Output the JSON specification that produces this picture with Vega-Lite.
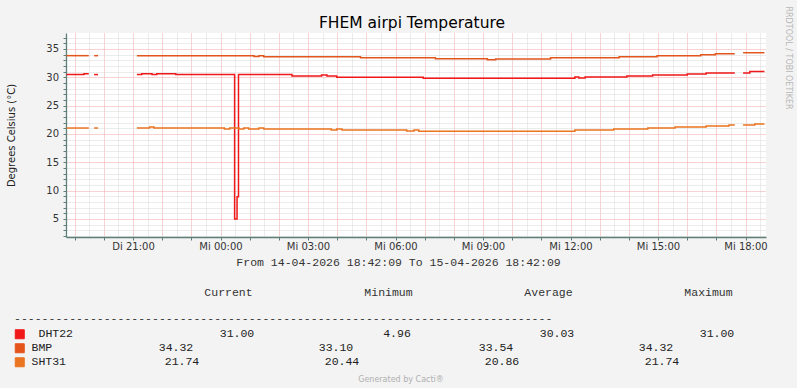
{
  "$schema": "https://vega.github.io/schema/vega-lite/v6.json",
  "background": "#F3F3F3",
  "padding": {"left": 6, "top": 5, "right": 6, "bottom": 7},
  "bounds": "flush",
  "spacing": 64,
  "config": {"view": {"stroke": null}, "font": "DejaVu Sans"},
  "resolve": {"scale": {"x": "independent", "y": "independent"}, "axis": {"x": "independent", "y": "independent"}},
  "datasets": {
    "temps": [
      {"s": "DHT22", "g": 1, "t": "2026-04-14T18:43", "v": 30.46},
      {"s": "DHT22", "g": 1, "t": "2026-04-14T19:19", "v": 30.63},
      {"s": "DHT22", "g": 1, "t": "2026-04-14T19:29", "v": 30.63},
      {"s": "DHT22", "g": 2, "t": "2026-04-14T19:40", "v": 30.46},
      {"s": "DHT22", "g": 2, "t": "2026-04-14T19:48", "v": 30.46},
      {"s": "DHT22", "g": 3, "t": "2026-04-14T21:08", "v": 30.46},
      {"s": "DHT22", "g": 3, "t": "2026-04-14T21:18", "v": 30.63},
      {"s": "DHT22", "g": 3, "t": "2026-04-14T21:39", "v": 30.46},
      {"s": "DHT22", "g": 3, "t": "2026-04-14T21:49", "v": 30.63},
      {"s": "DHT22", "g": 3, "t": "2026-04-14T22:28", "v": 30.46},
      {"s": "DHT22", "g": 3, "t": "2026-04-15T00:29", "v": 4.96},
      {"s": "DHT22", "g": 3, "t": "2026-04-15T00:34", "v": 8.9},
      {"s": "DHT22", "g": 3, "t": "2026-04-15T00:37", "v": 30.46},
      {"s": "DHT22", "g": 3, "t": "2026-04-15T02:27", "v": 30.2},
      {"s": "DHT22", "g": 3, "t": "2026-04-15T03:28", "v": 30.4},
      {"s": "DHT22", "g": 3, "t": "2026-04-15T03:39", "v": 30.23},
      {"s": "DHT22", "g": 3, "t": "2026-04-15T03:59", "v": 29.98},
      {"s": "DHT22", "g": 3, "t": "2026-04-15T06:57", "v": 29.82},
      {"s": "DHT22", "g": 3, "t": "2026-04-15T12:09", "v": 30.05},
      {"s": "DHT22", "g": 3, "t": "2026-04-15T12:17", "v": 29.85},
      {"s": "DHT22", "g": 3, "t": "2026-04-15T12:30", "v": 30.05},
      {"s": "DHT22", "g": 3, "t": "2026-04-15T13:56", "v": 30.23},
      {"s": "DHT22", "g": 3, "t": "2026-04-15T14:49", "v": 30.4},
      {"s": "DHT22", "g": 3, "t": "2026-04-15T16:00", "v": 30.58},
      {"s": "DHT22", "g": 3, "t": "2026-04-15T16:39", "v": 30.76},
      {"s": "DHT22", "g": 3, "t": "2026-04-15T17:38", "v": 30.76},
      {"s": "DHT22", "g": 4, "t": "2026-04-15T17:55", "v": 30.76},
      {"s": "DHT22", "g": 4, "t": "2026-04-15T18:09", "v": 31.0},
      {"s": "DHT22", "g": 4, "t": "2026-04-15T18:39", "v": 31.0},
      {"s": "BMP", "g": 1, "t": "2026-04-14T18:43", "v": 33.8},
      {"s": "BMP", "g": 1, "t": "2026-04-14T19:29", "v": 33.8},
      {"s": "BMP", "g": 2, "t": "2026-04-14T19:40", "v": 33.8},
      {"s": "BMP", "g": 2, "t": "2026-04-14T19:48", "v": 33.8},
      {"s": "BMP", "g": 3, "t": "2026-04-14T21:08", "v": 33.8},
      {"s": "BMP", "g": 3, "t": "2026-04-15T01:09", "v": 33.64},
      {"s": "BMP", "g": 3, "t": "2026-04-15T01:19", "v": 33.8},
      {"s": "BMP", "g": 3, "t": "2026-04-15T01:29", "v": 33.62},
      {"s": "BMP", "g": 3, "t": "2026-04-15T04:48", "v": 33.45},
      {"s": "BMP", "g": 3, "t": "2026-04-15T07:22", "v": 33.27},
      {"s": "BMP", "g": 3, "t": "2026-04-15T09:09", "v": 33.1},
      {"s": "BMP", "g": 3, "t": "2026-04-15T09:26", "v": 33.2},
      {"s": "BMP", "g": 3, "t": "2026-04-15T11:19", "v": 33.43},
      {"s": "BMP", "g": 3, "t": "2026-04-15T13:40", "v": 33.62},
      {"s": "BMP", "g": 3, "t": "2026-04-15T14:58", "v": 33.8},
      {"s": "BMP", "g": 3, "t": "2026-04-15T16:28", "v": 33.98},
      {"s": "BMP", "g": 3, "t": "2026-04-15T16:58", "v": 34.12},
      {"s": "BMP", "g": 3, "t": "2026-04-15T17:38", "v": 34.12},
      {"s": "BMP", "g": 4, "t": "2026-04-15T17:55", "v": 34.32},
      {"s": "BMP", "g": 4, "t": "2026-04-15T18:39", "v": 34.32},
      {"s": "SHT31", "g": 1, "t": "2026-04-14T18:43", "v": 21.03},
      {"s": "SHT31", "g": 1, "t": "2026-04-14T19:29", "v": 21.03},
      {"s": "SHT31", "g": 2, "t": "2026-04-14T19:40", "v": 21.03},
      {"s": "SHT31", "g": 2, "t": "2026-04-14T19:48", "v": 21.03},
      {"s": "SHT31", "g": 3, "t": "2026-04-14T21:08", "v": 21.03},
      {"s": "SHT31", "g": 3, "t": "2026-04-14T21:34", "v": 21.21},
      {"s": "SHT31", "g": 3, "t": "2026-04-14T21:43", "v": 21.03},
      {"s": "SHT31", "g": 3, "t": "2026-04-15T00:08", "v": 20.86},
      {"s": "SHT31", "g": 3, "t": "2026-04-15T00:19", "v": 21.03},
      {"s": "SHT31", "g": 3, "t": "2026-04-15T00:38", "v": 20.86},
      {"s": "SHT31", "g": 3, "t": "2026-04-15T00:48", "v": 21.03},
      {"s": "SHT31", "g": 3, "t": "2026-04-15T00:58", "v": 20.86},
      {"s": "SHT31", "g": 3, "t": "2026-04-15T01:19", "v": 21.03},
      {"s": "SHT31", "g": 3, "t": "2026-04-15T01:29", "v": 20.86},
      {"s": "SHT31", "g": 3, "t": "2026-04-15T03:48", "v": 20.68},
      {"s": "SHT31", "g": 3, "t": "2026-04-15T03:59", "v": 20.86},
      {"s": "SHT31", "g": 3, "t": "2026-04-15T04:10", "v": 20.68},
      {"s": "SHT31", "g": 3, "t": "2026-04-15T06:23", "v": 20.5},
      {"s": "SHT31", "g": 3, "t": "2026-04-15T06:38", "v": 20.68},
      {"s": "SHT31", "g": 3, "t": "2026-04-15T06:48", "v": 20.46},
      {"s": "SHT31", "g": 3, "t": "2026-04-15T12:09", "v": 20.68},
      {"s": "SHT31", "g": 3, "t": "2026-04-15T13:29", "v": 20.86},
      {"s": "SHT31", "g": 3, "t": "2026-04-15T14:39", "v": 21.03},
      {"s": "SHT31", "g": 3, "t": "2026-04-15T15:35", "v": 21.21},
      {"s": "SHT31", "g": 3, "t": "2026-04-15T16:39", "v": 21.39},
      {"s": "SHT31", "g": 3, "t": "2026-04-15T17:26", "v": 21.57},
      {"s": "SHT31", "g": 3, "t": "2026-04-15T17:38", "v": 21.57},
      {"s": "SHT31", "g": 4, "t": "2026-04-15T17:55", "v": 21.57},
      {"s": "SHT31", "g": 4, "t": "2026-04-15T18:19", "v": 21.74},
      {"s": "SHT31", "g": 4, "t": "2026-04-15T18:39", "v": 21.74}
    ],
    "stats": [
      {"s": "DHT22", "k": "Current", "v": 31.00},
      {"s": "DHT22", "k": "Minimum", "v": 4.96},
      {"s": "DHT22", "k": "Average", "v": 30.03},
      {"s": "DHT22", "k": "Maximum", "v": 31.00},
      {"s": "BMP", "k": "Current", "v": 34.32},
      {"s": "BMP", "k": "Minimum", "v": 33.10},
      {"s": "BMP", "k": "Average", "v": 33.54},
      {"s": "BMP", "k": "Maximum", "v": 34.32},
      {"s": "SHT31", "k": "Current", "v": 21.74},
      {"s": "SHT31", "k": "Minimum", "v": 20.44},
      {"s": "SHT31", "k": "Average", "v": 20.86},
      {"s": "SHT31", "k": "Maximum", "v": 21.74}
    ]
  },
  "vconcat": [
    {
      "width": 700,
      "height": 204,
      "view": {"fill": "#FFFFFF", "stroke": null},
      "title": {"text": "FHEM airpi Temperature", "fontSize": 15.5, "fontWeight": "normal", "color": "#000000", "anchor": "middle", "frame": "group", "offset": 5, "baseline": "alphabetic", "dx": -4, "dy": 42},
      "data": {"name": "temps"},
      "layer": [
        {
          "mark": {"type": "line", "interpolate": "step-after", "strokeWidth": 1.5},
          "encoding": {
            "x": {
              "field": "t", "type": "temporal",
              "scale": {"domain": [{"year": 2026, "month": 4, "date": 14, "hours": 18, "minutes": 42, "seconds": 9}, {"year": 2026, "month": 4, "date": 15, "hours": 18, "minutes": 42, "seconds": 9}]},
              "axis": {
                "title": "From 14-04-2026 18:42:09 To 15-04-2026 18:42:09",
                "titleFont": "Liberation Mono", "titleFontSize": 11.5, "titleFontWeight": "normal", "titleColor": "#333333", "titlePadding": 5, "titleX": 332,
                "values": [
                  {"year": 2026, "month": 4, "date": 14, "hours": 19, "minutes": 0}, {"year": 2026, "month": 4, "date": 14, "hours": 19, "minutes": 30},
                  {"year": 2026, "month": 4, "date": 14, "hours": 20, "minutes": 0}, {"year": 2026, "month": 4, "date": 14, "hours": 20, "minutes": 30},
                  {"year": 2026, "month": 4, "date": 14, "hours": 21, "minutes": 0}, {"year": 2026, "month": 4, "date": 14, "hours": 21, "minutes": 30},
                  {"year": 2026, "month": 4, "date": 14, "hours": 22, "minutes": 0}, {"year": 2026, "month": 4, "date": 14, "hours": 22, "minutes": 30},
                  {"year": 2026, "month": 4, "date": 14, "hours": 23, "minutes": 0}, {"year": 2026, "month": 4, "date": 14, "hours": 23, "minutes": 30},
                  {"year": 2026, "month": 4, "date": 15, "hours": 0, "minutes": 0}, {"year": 2026, "month": 4, "date": 15, "hours": 0, "minutes": 30},
                  {"year": 2026, "month": 4, "date": 15, "hours": 1, "minutes": 0}, {"year": 2026, "month": 4, "date": 15, "hours": 1, "minutes": 30},
                  {"year": 2026, "month": 4, "date": 15, "hours": 2, "minutes": 0}, {"year": 2026, "month": 4, "date": 15, "hours": 2, "minutes": 30},
                  {"year": 2026, "month": 4, "date": 15, "hours": 3, "minutes": 0}, {"year": 2026, "month": 4, "date": 15, "hours": 3, "minutes": 30},
                  {"year": 2026, "month": 4, "date": 15, "hours": 4, "minutes": 0}, {"year": 2026, "month": 4, "date": 15, "hours": 4, "minutes": 30},
                  {"year": 2026, "month": 4, "date": 15, "hours": 5, "minutes": 0}, {"year": 2026, "month": 4, "date": 15, "hours": 5, "minutes": 30},
                  {"year": 2026, "month": 4, "date": 15, "hours": 6, "minutes": 0}, {"year": 2026, "month": 4, "date": 15, "hours": 6, "minutes": 30},
                  {"year": 2026, "month": 4, "date": 15, "hours": 7, "minutes": 0}, {"year": 2026, "month": 4, "date": 15, "hours": 7, "minutes": 30},
                  {"year": 2026, "month": 4, "date": 15, "hours": 8, "minutes": 0}, {"year": 2026, "month": 4, "date": 15, "hours": 8, "minutes": 30},
                  {"year": 2026, "month": 4, "date": 15, "hours": 9, "minutes": 0}, {"year": 2026, "month": 4, "date": 15, "hours": 9, "minutes": 30},
                  {"year": 2026, "month": 4, "date": 15, "hours": 10, "minutes": 0}, {"year": 2026, "month": 4, "date": 15, "hours": 10, "minutes": 30},
                  {"year": 2026, "month": 4, "date": 15, "hours": 11, "minutes": 0}, {"year": 2026, "month": 4, "date": 15, "hours": 11, "minutes": 30},
                  {"year": 2026, "month": 4, "date": 15, "hours": 12, "minutes": 0}, {"year": 2026, "month": 4, "date": 15, "hours": 12, "minutes": 30},
                  {"year": 2026, "month": 4, "date": 15, "hours": 13, "minutes": 0}, {"year": 2026, "month": 4, "date": 15, "hours": 13, "minutes": 30},
                  {"year": 2026, "month": 4, "date": 15, "hours": 14, "minutes": 0}, {"year": 2026, "month": 4, "date": 15, "hours": 14, "minutes": 30},
                  {"year": 2026, "month": 4, "date": 15, "hours": 15, "minutes": 0}, {"year": 2026, "month": 4, "date": 15, "hours": 15, "minutes": 30},
                  {"year": 2026, "month": 4, "date": 15, "hours": 16, "minutes": 0}, {"year": 2026, "month": 4, "date": 15, "hours": 16, "minutes": 30},
                  {"year": 2026, "month": 4, "date": 15, "hours": 17, "minutes": 0}, {"year": 2026, "month": 4, "date": 15, "hours": 17, "minutes": 30},
                  {"year": 2026, "month": 4, "date": 15, "hours": 18, "minutes": 0}, {"year": 2026, "month": 4, "date": 15, "hours": 18, "minutes": 30}
                ],
                "labelExpr": "minutes(datum.value) === 0 && hours(datum.value) % 3 === 0 ? (day(datum.value) === 2 ? 'Di ' : 'Mi ') + timeFormat(datum.value, '%H:%M') : ''",
                "labelOverlap": false, "labelFlush": false, "labelFontSize": 10, "labelColor": "#333333", "labelPadding": 1,
                "grid": true, "gridDash": [1, 1],
                "gridColor": {"condition": {"test": "minutes(datum.value) === 0", "value": "#F2A6A6"}, "value": "#D8D8D8"},
                "tickSize": 3,
                "tickColor": {"condition": {"test": "minutes(datum.value) === 0", "value": "#5F7F7A"}, "value": "transparent"},
                "domainColor": "#5F7F7A", "domainWidth": 1.3
              }
            },
            "y": {
              "field": "v", "type": "quantitative",
              "scale": {"domain": [1.8, 37.8], "nice": false, "zero": false},
              "axis": {
                "title": "Degrees Celsius (°C)", "titleFontSize": 10, "titleFontWeight": "normal", "titleColor": "#222222", "titleX": -55, "titleY": 102, "titleBaseline": "middle",
                "values": [2, 3, 4, 5, 6, 7, 8, 9, 10, 11, 12, 13, 14, 15, 16, 17, 18, 19, 20, 21, 22, 23, 24, 25, 26, 27, 28, 29, 30, 31, 32, 33, 34, 35, 36, 37],
                "labelExpr": "datum.value % 5 === 0 ? datum.label : ''",
                "labelFontSize": 10, "labelColor": "#333333", "labelPadding": 4.5, "labelOverlap": false,
                "grid": true, "gridDash": [1, 1],
                "gridColor": {"condition": {"test": "datum.value % 5 === 0", "value": "#F2A6A6"}, "value": "#D8D8D8"},
                "tickSize": 3, "tickColor": "#5F7F7A",
                "domainColor": "#5F7F7A", "domainWidth": 1.3
              }
            },
            "color": {
              "field": "s", "type": "nominal",
              "scale": {"domain": ["DHT22", "BMP", "SHT31"], "range": ["#F01818", "#E4551C", "#EA7420"]},
              "legend": {
                "orient": "none", "legendX": -52, "legendY": 280,
                "title": "------------------------------------------------------------------------------",
                "titleFont": "Liberation Mono", "titleFontSize": 11.5, "titleFontWeight": "normal", "titleColor": "#333333", "titlePadding": 4, "titleLimit": 1000,
                "symbolType": "square", "symbolSize": 81, "symbolStrokeColor": "#333333", "symbolStrokeWidth": 1,
                "labelFont": "Liberation Mono", "labelFontSize": 11.5, "labelColor": "#222222", "labelOffset": 6,
                "rowPadding": 0, "padding": 0,
                "encode": {
                  "symbols": {"update": {"fill": {"scale": "color", "field": "value"}, "fillOpacity": {"value": 1}}},
                  "labels": {"update": {"dx": {"signal": "datum.value === 'DHT22' ? 7 : 0"}}}
                }
              }
            },
            "detail": {"field": "g"}
          }
        },
        {
          "mark": {"type": "line", "strokeOpacity": 0},
          "encoding": {
            "x": {"field": "t", "type": "temporal", "axis": null},
            "y": {
              "field": "v", "type": "quantitative",
              "axis": {"orient": "right", "title": "RRDTOOL / TOBI OETIKER", "titleFontSize": 8, "titleFontWeight": "normal", "titleColor": "#B8B8B8", "titleAngle": 90, "titleAlign": "left", "titleBaseline": "middle", "titleX": 21, "titleY": -27, "labels": false, "ticks": false, "domain": false, "grid": false}
            },
            "detail": [{"field": "s"}, {"field": "g"}]
          }
        }
      ],
      "resolve": {"axis": {"x": "independent", "y": "independent"}}
    },
    {
      "width": 700,
      "height": 66,
      "view": {"fill": "transparent", "stroke": null},
      "title": {"text": "Generated by Cacti®", "orient": "bottom", "fontSize": 8, "fontWeight": "normal", "color": "#B0B0B0", "anchor": "middle", "frame": "group", "offset": 8, "dx": -15},
      "data": {"name": "stats"},
      "encoding": {
        "x": {
          "field": "k", "type": "ordinal",
          "scale": {"type": "point", "domain": ["Current", "Minimum", "Average", "Maximum"], "range": [162, 642], "padding": 0},
          "axis": {"orient": "top", "title": null, "ticks": false, "domain": false, "grid": false, "labelFont": "Liberation Mono", "labelFontSize": 11.5, "labelColor": "#333333", "labelPadding": 4, "labelAngle": 0}
        },
        "y": {
          "field": "s", "type": "nominal",
          "scale": {"type": "point", "domain": ["DHT22", "BMP", "SHT31"], "range": [33, 61], "padding": 0},
          "axis": null
        },
        "text": {"field": "v", "type": "quantitative", "format": ".2f"}
      },
      "layer": [
        {"transform": [{"filter": "datum.s === 'DHT22'"}], "mark": {"type": "text", "dx": 9, "font": "Liberation Mono", "fontSize": 11.5, "color": "#222222", "baseline": "middle"}},
        {"transform": [{"filter": "datum.s === 'BMP'"}], "mark": {"type": "text", "dx": -52, "font": "Liberation Mono", "fontSize": 11.5, "color": "#222222", "baseline": "middle"}},
        {"transform": [{"filter": "datum.s === 'SHT31'"}], "mark": {"type": "text", "dx": -46, "font": "Liberation Mono", "fontSize": 11.5, "color": "#222222", "baseline": "middle"}}
      ]
    }
  ]
}
